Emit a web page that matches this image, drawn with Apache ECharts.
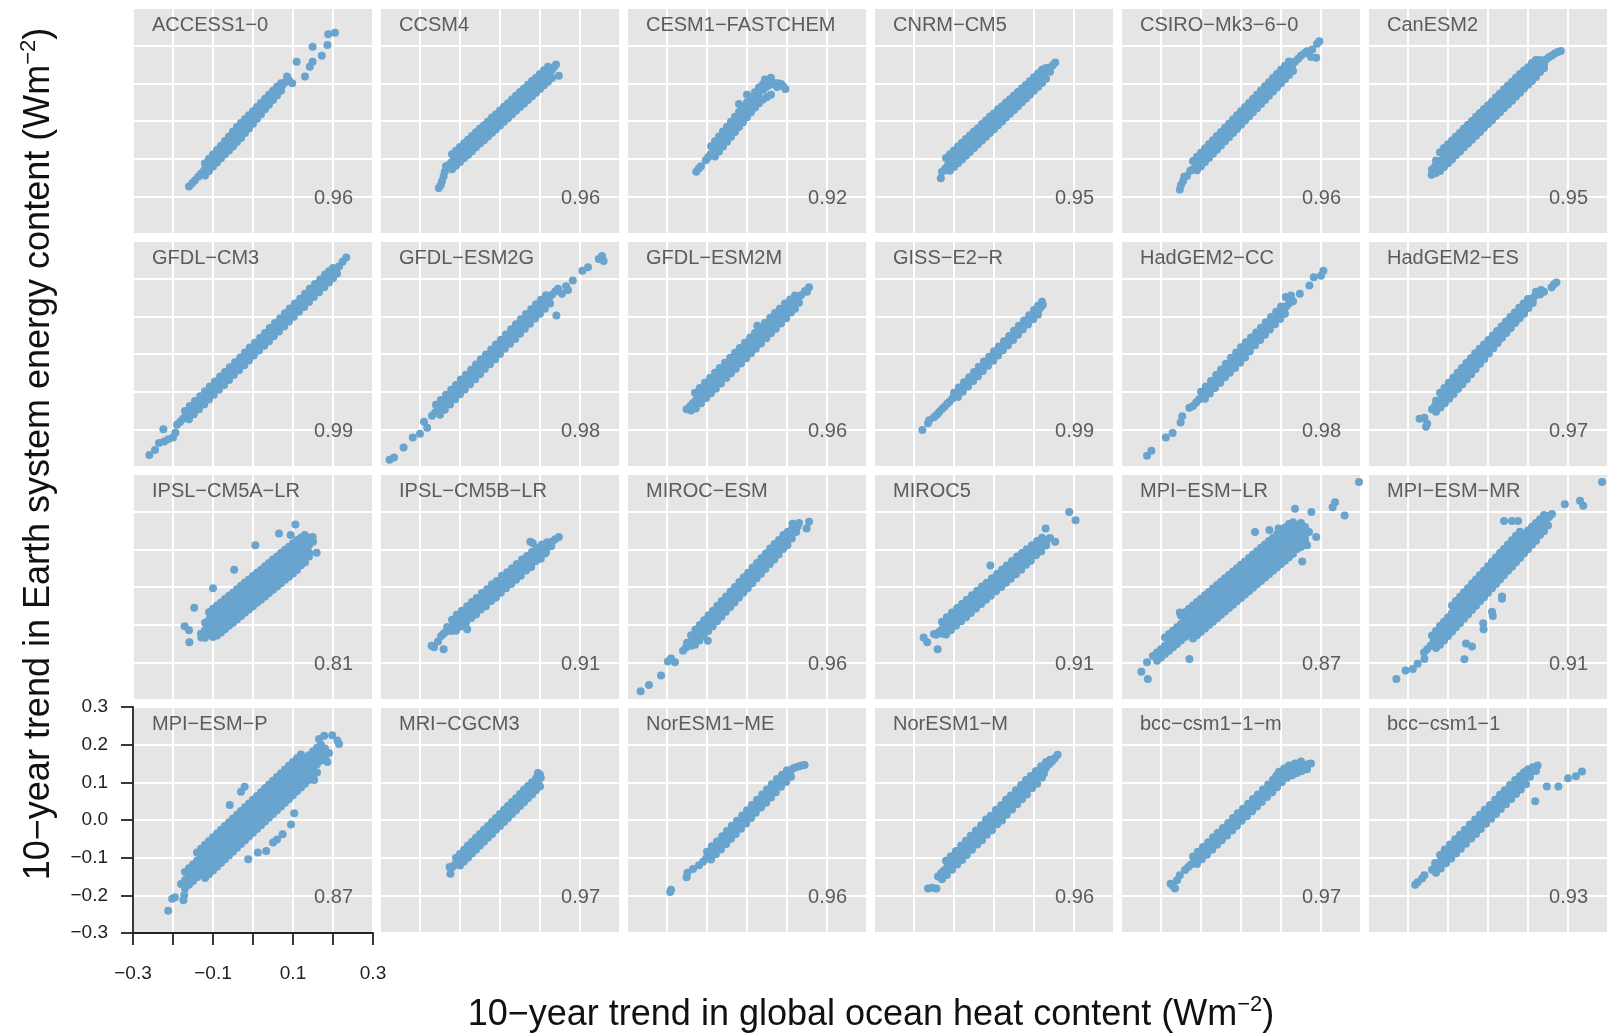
<!DOCTYPE html>
<html>
<head>
<meta charset="utf-8">
<script src="https://cdn.jsdelivr.net/npm/echarts@6/dist/echarts.min.js"></script>
<style>html,body{margin:0;padding:0;background:#fff;}#chart{width:1610px;height:1034px;}</style>
</head>
<body>
<div id="chart"></div>
<script>
// ---- Data (flat x,y pairs) ----
const MODELS = ['ACCESS1−0','CCSM4','CESM1−FASTCHEM','CNRM−CM5','CSIRO−Mk3−6−0','CanESM2',
  'GFDL−CM3','GFDL−ESM2G','GFDL−ESM2M','GISS−E2−R','HadGEM2−CC','HadGEM2−ES',
  'IPSL−CM5A−LR','IPSL−CM5B−LR','MIROC−ESM','MIROC5','MPI−ESM−LR','MPI−ESM−MR',
  'MPI−ESM−P','MRI−CGCM3','NorESM1−ME','NorESM1−M','bcc−csm1−1−m','bcc−csm1−1'];
const R_VALUES = ['0.96','0.96','0.92','0.95','0.96','0.95','0.99','0.98','0.96','0.99','0.98','0.97',
  '0.81','0.91','0.96','0.91','0.87','0.91','0.87','0.97','0.96','0.96','0.97','0.93'];
const X_TICK_VALUES = [-0.3, -0.1, 0.1, 0.3];
const X_TICK_LABELS = ['−0.3', '−0.1', '0.1', '0.3'];
const Y_TICK_VALUES = [-0.3, -0.2, -0.1, 0, 0.1, 0.2, 0.3];
const Y_TICK_LABELS = ['−0.3', '−0.2', '−0.1', '0.0', '0.1', '0.2', '0.3'];

const ACCESS1_0 = [-.16,-.174,-.145,-.157,-.13,-.14,-.115,-.122,-.1,-.105,-.085,-.088,-.07,-.07,-.055,-.053,-.04,-.036,-.025,-.019,-.01,-.002,.005,.016,.02,.033,.035,.05,.05,.068,.065,.085,.08,.102,
-.152,-.165,-.137,-.148,-.122,-.13,-.107,-.113,-.092,-.096,-.077,-.079,-.062,-.061,-.047,-.044,-.032,-.027,-.017,-.01,-.002,.008,.013,.025,.028,.042,.043,.059,.058,.077,.073,.094,
-.12,-.112,-.1,-.089,-.08,-.066,-.06,-.041,-.04,-.016,-.02,.005,0,.026,.02,.048,.04,.07,.06,.091,
-.11,-.1,-.09,-.077,-.07,-.053,-.05,-.028,-.03,-.005,-.01,.015,.01,.037,.03,.059,.05,.08,.07,.1,
-.11,-.133,-.09,-.11,-.07,-.088,-.05,-.068,-.03,-.045,-.01,-.02,.01,.006,.03,.031,.05,.056,.07,.08,
-.12,-.145,-.1,-.121,-.08,-.099,-.06,-.078,-.04,-.056,-.02,-.032,0,-.007,.02,.018,.04,.043,.06,.068,
.085,.118,.09,.108,.098,.1,.109,.157,.13,.118,.142,.144,.149,.157,.149,.197,.172,.173,.186,.202,.188,.23,.205,.234];
const CCSM4 = [-.153,-.178,-.145,-.16,-.141,-.147,-.135,-.12,-.12,-.128,-.148,-.17,-.138,-.135,
-.13,-.118,-.115,-.104,-.1,-.089,-.085,-.074,-.07,-.06,-.055,-.045,-.04,-.031,-.025,-.016,-.01,-.002,.005,.013,.02,.027,.035,.042,.05,.057,.065,.071,.08,.086,.095,.1,.11,.115,.125,.129,.135,.143,
-.122,-.11,-.107,-.096,-.092,-.081,-.077,-.067,-.062,-.052,-.047,-.038,-.032,-.023,-.017,-.008,-.002,.006,.013,.021,.028,.035,.043,.05,.058,.064,.073,.079,.088,.093,.103,.108,.118,.122,.13,.136,
-.12,-.088,-.1,-.069,-.08,-.05,-.06,-.03,-.04,-.011,-.02,.009,0,.028,.02,.047,.04,.067,.06,.086,.08,.106,.1,.125,.12,.144,
-.11,-.079,-.09,-.059,-.07,-.04,-.05,-.02,-.03,-.001,-.01,.018,.01,.038,.03,.057,.05,.077,.07,.096,.09,.115,.11,.135,
-.11,-.119,-.09,-.099,-.07,-.08,-.05,-.06,-.03,-.041,-.01,-.022,.01,-.002,.03,.017,.05,.037,.07,.056,.09,.075,.11,.095,.13,.114,
-.1,-.109,-.08,-.09,-.06,-.07,-.04,-.051,-.02,-.031,0,-.012,.02,.007,.04,.027,.06,.046,.08,.066,.1,.085,.12,.104,
-.11,-.089,-.09,-.069,-.07,-.05,-.05,-.03,-.03,-.011,-.01,.008,.01,.028,.03,.047,.05,.067,.07,.086,.09,.105,.11,.125,
-.12,-.118,-.1,-.099,-.08,-.08,-.06,-.06,-.04,-.041,-.02,-.021,0,-.002,.02,.017,.04,.037,.06,.056,.08,.076,.1,.095,.12,.114,
.147,.12,.14,.15];
const CESM1_FASTCHEM = [-.127,-.135,-.115,-.12,-.103,-.104,-.091,-.088,-.079,-.073,-.067,-.057,-.055,-.042,-.043,-.026,-.031,-.01,-.019,.005,-.007,.021,.005,.037,.017,.052,.029,.068,.041,.083,.055,.095,.07,.1,.085,.098,.096,.085,
-.121,-.127,-.097,-.096,-.073,-.065,-.049,-.034,-.025,-.003,-.001,.029,.023,.06,.048,.09,.062,.098,.078,.1,.09,.092,
-.09,-.067,-.07,-.041,-.05,-.015,-.03,.011,-.01,.037,.01,.063,.03,.089,
-.08,-.054,-.06,-.028,-.04,-.002,-.02,.024,0,.05,.02,.076,.04,.098,
-.08,-.094,-.06,-.068,-.04,-.042,-.02,-.016,0,.01,.02,.036,.04,.057,.06,.07,
-.07,-.081,-.05,-.055,-.03,-.029,-.01,-.003,.01,.023,.03,.047,.05,.064,
.06,.115,.045,.11,.075,.09,-.02,.045,0,.07];
const CNRM_CM5 = [-.133,-.152,-.13,-.135,-.115,-.117,-.1,-.102,-.085,-.087,-.07,-.072,-.055,-.057,-.04,-.042,-.025,-.026,-.01,-.011,.005,.004,.02,.02,.035,.035,.05,.05,.065,.065,.08,.08,.095,.095,.11,.11,.125,.126,.14,.142,.153,.155,
-.122,-.126,-.107,-.11,-.092,-.095,-.077,-.08,-.062,-.065,-.047,-.05,-.032,-.034,-.017,-.019,-.002,-.003,.013,.012,.028,.028,.043,.043,.058,.058,.073,.073,.088,.088,.103,.103,.118,.118,.133,.134,.147,.148,
-.12,-.098,-.1,-.078,-.08,-.058,-.06,-.038,-.04,-.019,-.02,.001,0,.02,.02,.039,.04,.058,.06,.077,.08,.096,.1,.116,.12,.136,
-.11,-.088,-.09,-.068,-.07,-.048,-.05,-.028,-.03,-.008,-.01,.012,.01,.031,.03,.049,.05,.068,.07,.087,.09,.106,.11,.126,
-.11,-.132,-.09,-.112,-.07,-.092,-.05,-.072,-.03,-.052,-.01,-.032,.01,-.011,.03,.009,.05,.029,.07,.05,.09,.07,.11,.09,.13,.112,
-.1,-.122,-.08,-.102,-.06,-.082,-.04,-.062,-.02,-.042,0,-.022,.02,-.001,.04,.019,.06,.039,.08,.06,.1,.08,.12,.101,
-.11,-.099,-.09,-.079,-.07,-.059,-.05,-.039,-.03,-.019,-.01,.001,.01,.021,.03,.041,.05,.061,.07,.081,.09,.101,.11,.121,.13,.141,
-.12,-.131,-.1,-.111,-.08,-.091,-.06,-.071,-.04,-.051,-.02,-.031,0,-.011,.02,.009,.04,.029,.06,.049,.08,.069,.1,.089,.12,.109,.14,.131];
const CSIRO_MK3_6_0 = [-.153,-.182,-.145,-.16,-.15,-.17,-.135,-.146,-.12,-.128,-.105,-.11,-.09,-.091,-.075,-.075,-.06,-.058,-.045,-.042,-.03,-.025,-.015,-.009,0,.008,.015,.025,.03,.041,.045,.058,.06,.074,.075,.091,.09,.107,.105,.124,.12,.14,.135,.157,.15,.173,.165,.185,
-.142,-.148,-.127,-.132,-.112,-.115,-.097,-.099,-.082,-.082,-.067,-.066,-.052,-.049,-.037,-.033,-.022,-.016,-.007,0,.008,.017,.023,.033,.038,.05,.053,.066,.068,.083,.083,.099,.098,.116,.113,.132,.128,.149,.143,.165,.158,.179,
-.12,-.106,-.1,-.084,-.08,-.062,-.06,-.04,-.04,-.018,-.02,.004,0,.026,.02,.048,.04,.07,.06,.092,.08,.114,.1,.136,.12,.158,
-.11,-.095,-.09,-.073,-.07,-.051,-.05,-.029,-.03,-.007,-.01,.015,.01,.037,.03,.059,.05,.081,.07,.103,.09,.125,.11,.147,
-.11,-.131,-.09,-.109,-.07,-.087,-.05,-.065,-.03,-.043,-.01,-.021,.01,.001,.03,.023,.05,.045,.07,.067,.09,.089,.11,.111,.13,.133,
-.1,-.12,-.08,-.098,-.06,-.076,-.04,-.054,-.02,-.032,0,-.01,.02,.012,.04,.034,.06,.056,.08,.078,.1,.1,.12,.122,
.178,.19,.19,.205,.196,.212,.188,.168,.175,.17];
const CANESM2 = [-.141,-.143,-.14,-.129,-.125,-.113,-.11,-.097,-.095,-.082,-.08,-.066,-.065,-.051,-.05,-.035,-.035,-.019,-.02,-.004,-.005,.012,.01,.027,.025,.043,.04,.059,.055,.074,.07,.09,.085,.105,.1,.121,.115,.137,.13,.152,.145,.163,.16,.174,.175,.183,.182,.186,
-.132,-.12,-.117,-.105,-.102,-.089,-.087,-.073,-.072,-.058,-.057,-.042,-.042,-.027,-.027,-.011,-.012,.005,.003,.02,.018,.036,.033,.051,.048,.067,.063,.083,.078,.098,.093,.114,.108,.129,.123,.145,.138,.158,.152,.169,.167,.179,
-.12,-.083,-.1,-.062,-.08,-.041,-.06,-.02,-.04,0,-.02,.021,0,.042,.02,.063,.04,.084,.06,.104,.08,.125,.1,.143,.12,.162,
-.11,-.072,-.09,-.052,-.07,-.031,-.05,-.01,-.03,.011,-.01,.032,.01,.052,.03,.073,.05,.094,.07,.115,.09,.134,.11,.154,
-.13,-.138,-.11,-.122,-.09,-.102,-.07,-.081,-.05,-.06,-.03,-.039,-.01,-.018,.01,.002,.03,.023,.05,.044,.07,.065,.09,.086,.11,.106,.13,.13,.14,.14,
-.12,-.133,-.1,-.112,-.08,-.091,-.06,-.07,-.04,-.05,-.02,-.029,0,-.008,.02,.013,.04,.034,.06,.054,.08,.075,.1,.096,.12,.117,
-.13,-.105,-.11,-.084,-.09,-.064,-.07,-.043,-.05,-.022,-.03,-.001,-.01,.02,.01,.04,.03,.061,.05,.082,.07,.103,.09,.124,.11,.144,.13,.162,
-.12,-.121,-.1,-.1,-.08,-.079,-.06,-.058,-.04,-.038,-.02,-.017,0,.004,.02,.025,.04,.046,.06,.066,.08,.087,.1,.108,.12,.129,.14,.15];
const GFDL_CM3 = [-.259,-.268,-.245,-.255,-.235,-.236,-.222,-.232,-.212,-.226,-.2,-.222,-.224,-.2,-.194,-.209,
-.19,-.188,-.175,-.172,-.16,-.157,-.145,-.141,-.13,-.126,-.115,-.11,-.1,-.095,-.085,-.079,-.07,-.064,-.055,-.048,-.04,-.032,-.025,-.017,-.01,-.001,.005,.014,.02,.03,.035,.045,.05,.061,.065,.076,.08,.092,.095,.107,.11,.123,.125,.139,.14,.154,.155,.17,.17,.185,.185,.201,.2,.216,.215,.232,.233,.256,
-.182,-.18,-.167,-.164,-.152,-.148,-.137,-.133,-.122,-.117,-.107,-.102,-.092,-.086,-.077,-.071,-.062,-.055,-.047,-.04,-.032,-.024,-.017,-.009,-.002,.007,.013,.022,.028,.038,.043,.054,.058,.069,.073,.085,.088,.1,.103,.116,.118,.131,.133,.147,.148,.162,.163,.178,.178,.193,.193,.209,.208,.224,.224,.245,
-.17,-.151,-.145,-.125,-.12,-.099,-.095,-.073,-.07,-.048,-.045,-.022,-.02,.004,.005,.03,.03,.056,.055,.082,.08,.108,.105,.134,.13,.16,.155,.186,.18,.211,.2,.228,
-.158,-.138,-.132,-.112,-.108,-.086,-.082,-.06,-.058,-.035,-.032,-.009,-.008,.017,.018,.043,.042,.069,.068,.095,.092,.121,.118,.147,.142,.173,.168,.198,.19,.22,
-.16,-.173,-.135,-.147,-.11,-.121,-.085,-.095,-.06,-.069,-.035,-.043,-.01,-.017,.015,.009,.04,.034,.065,.06,.09,.086,.115,.112,.14,.138,.165,.164,.19,.19,.21,.213,
-.148,-.16,-.122,-.134,-.098,-.108,-.072,-.082,-.048,-.056,-.022,-.03,.002,-.004,.028,.022,.052,.047,.078,.073,.102,.099,.128,.125,.152,.151,.178,.177,.2,.201];
const GFDL_ESM2G = [-.276,-.281,-.265,-.275,-.241,-.248,-.218,-.222,-.2,-.212,-.182,-.196,-.19,-.18,
-.17,-.164,-.155,-.148,-.14,-.132,-.125,-.116,-.11,-.1,-.095,-.084,-.08,-.068,-.065,-.052,-.05,-.036,-.035,-.019,-.02,-.003,-.005,.013,.01,.029,.025,.045,.04,.061,.055,.077,.07,.093,.085,.109,.1,.125,.115,.141,.13,.157,.145,.173,
-.162,-.155,-.147,-.139,-.132,-.123,-.117,-.107,-.102,-.091,-.087,-.075,-.072,-.059,-.057,-.043,-.042,-.027,-.027,-.011,-.012,.005,.003,.021,.018,.037,.033,.053,.048,.069,.063,.085,.078,.101,.093,.118,.108,.134,.123,.15,.138,.166,
-.16,-.135,-.135,-.108,-.11,-.082,-.085,-.055,-.06,-.028,-.035,-.001,-.01,.025,.015,.052,.04,.079,.065,.106,.09,.132,.115,.156,
-.148,-.122,-.122,-.095,-.098,-.068,-.072,-.042,-.048,-.014,-.022,.012,.002,.038,.028,.066,.052,.092,.078,.119,.102,.144,
-.15,-.161,-.125,-.134,-.1,-.107,-.075,-.08,-.05,-.054,-.025,-.027,0,0,.025,.027,.05,.054,.075,.08,.1,.107,.125,.134,
-.138,-.148,-.112,-.12,-.088,-.094,-.062,-.067,-.038,-.04,-.012,-.014,.012,.014,.038,.04,.062,.067,.088,.094,.112,.12,
.141,.102,.155,.16,.165,.18,.182,.195,.17,.17,.206,.221,.22,.23,.247,.252,.259,.247,.255,.26];
const GFDL_ESM2M = [-.151,-.147,-.135,-.13,-.12,-.114,-.105,-.098,-.09,-.082,-.075,-.067,-.06,-.051,-.045,-.035,-.03,-.019,-.015,-.003,0,.013,.015,.029,.03,.045,.045,.061,.06,.077,.075,.093,.09,.108,.105,.124,.12,.14,.135,.156,.155,.177,.15,.165,
-.142,-.138,-.127,-.122,-.112,-.106,-.097,-.09,-.082,-.074,-.067,-.058,-.052,-.042,-.037,-.026,-.022,-.01,-.007,.006,.008,.021,.023,.037,.038,.053,.053,.069,.068,.085,.083,.101,.098,.117,.113,.133,.128,.149,.145,.167,
-.13,-.103,-.105,-.076,-.08,-.05,-.055,-.023,-.03,.003,-.005,.03,.02,.056,.045,.083,.07,.109,.095,.134,.12,.155,
-.118,-.09,-.092,-.063,-.068,-.037,-.042,-.01,-.018,.016,.008,.044,.032,.069,.058,.096,.082,.12,.108,.145,
-.14,-.15,-.115,-.131,-.09,-.104,-.065,-.078,-.04,-.051,-.015,-.025,.01,.002,.035,.028,.06,.055,.085,.081,.11,.11,.13,.136,
-.128,-.145,-.102,-.117,-.078,-.092,-.052,-.064,-.028,-.039,-.002,-.011,.022,.014,.048,.042,.072,.067,.098,.095,.12,.12,
-.12,-.103,-.1,-.082,-.08,-.061,-.06,-.04,-.04,-.018,-.02,.003,0,.024,.02,.045,.04,.066,.06,.087,.08,.108,
-.13,-.136,-.11,-.115,-.09,-.093,-.07,-.072,-.05,-.051,-.03,-.03,-.01,-.009,.01,.013,.03,.034,.05,.055,.07,.076,.09,.097,
.026,.075];
const GISS_E2_R = [-.179,-.202,-.165,-.184,-.162,-.176,
-.15,-.168,-.137,-.154,-.124,-.14,-.111,-.126,-.098,-.111,-.085,-.097,-.072,-.083,-.059,-.069,-.046,-.054,-.033,-.04,-.02,-.026,-.007,-.012,.006,.003,.019,.017,.032,.031,.045,.045,.058,.06,.071,.074,.084,.088,.097,.102,.11,.116,.122,.13,
-.143,-.161,-.13,-.146,-.117,-.132,-.104,-.118,-.091,-.104,-.078,-.089,-.065,-.075,-.052,-.061,-.039,-.047,-.026,-.032,-.013,-.018,0,-.004,.013,.01,.026,.024,.039,.039,.052,.053,.065,.067,.078,.081,.091,.096,.104,.11,.116,.123,
-.1,-.103,-.075,-.075,-.05,-.048,-.025,-.02,0,.007,.025,.034,.05,.062,.075,.089,.1,.117,.12,.139,
-.088,-.089,-.062,-.062,-.038,-.034,-.012,-.007,.012,.02,.038,.048,.062,.075,.088,.103,.11,.128,
-.09,-.114,-.065,-.086,-.04,-.059,-.015,-.031,.01,-.004,.035,.023,.06,.051,.085,.078,.11,.105,
-.078,-.1,-.052,-.072,-.028,-.045,-.002,-.018,.022,.01,.048,.037,.072,.065,.098,.092];
const HADGEM2_CC = [-.235,-.27,-.224,-.257,-.188,-.222,-.171,-.21,-.151,-.182,-.147,-.165,-.129,-.143,
-.12,-.138,-.105,-.121,-.09,-.104,-.075,-.087,-.06,-.07,-.045,-.053,-.03,-.036,-.015,-.019,0,-.002,.015,.015,.03,.032,.045,.049,.06,.066,.075,.083,.09,.1,.105,.117,.12,.134,
-.112,-.129,-.097,-.112,-.082,-.095,-.067,-.078,-.052,-.061,-.037,-.044,-.022,-.027,-.007,-.01,.008,.007,.023,.024,.038,.041,.053,.058,.068,.075,.083,.092,.098,.109,.113,.126,
-.1,-.1,-.075,-.072,-.05,-.041,-.025,-.01,0,.018,.025,.044,.05,.07,.075,.098,.1,.126,
-.088,-.086,-.062,-.056,-.038,-.026,-.012,.004,.012,.031,.038,.057,.062,.084,.088,.112,
-.09,-.119,-.065,-.09,-.04,-.062,-.015,-.037,.01,-.009,.035,.023,.06,.051,.085,.079,.11,.107,
-.078,-.105,-.052,-.076,-.028,-.05,-.002,-.023,.022,.007,.048,.037,.072,.065,.098,.093,
.112,.151,.13,.14,.125,.155,.147,.16,.171,.182,.182,.204,.2,.208,.206,.221];
const HADGEM2_ES = [-.171,-.172,-.159,-.169,-.155,-.193,-.152,-.185,
-.14,-.147,-.127,-.132,-.114,-.116,-.101,-.101,-.088,-.086,-.075,-.071,-.062,-.056,-.049,-.04,-.036,-.025,-.023,-.01,-.01,.005,.003,.021,.016,.036,.029,.051,.042,.066,.055,.081,.068,.097,.081,.112,.094,.127,.107,.142,.12,.157,.133,.17,
-.133,-.139,-.12,-.123,-.107,-.108,-.094,-.093,-.081,-.078,-.068,-.063,-.055,-.047,-.042,-.032,-.029,-.017,-.016,-.002,-.003,.013,.01,.029,.023,.044,.036,.059,.049,.074,.062,.09,.075,.105,.088,.12,.101,.135,.114,.15,.127,.166,
-.12,-.103,-.098,-.076,-.076,-.05,-.054,-.024,-.032,.002,-.01,.025,.012,.049,.034,.073,.056,.098,.078,.123,.1,.146,
-.109,-.09,-.087,-.063,-.065,-.037,-.043,-.011,-.021,.014,.001,.037,.023,.061,.045,.086,.067,.11,.089,.134,
-.13,-.153,-.108,-.131,-.086,-.106,-.064,-.08,-.042,-.054,-.02,-.026,.002,.001,.024,.029,.046,.056,.068,.082,.09,.107,.112,.136,
-.119,-.142,-.097,-.119,-.075,-.093,-.053,-.067,-.031,-.04,-.009,-.013,.013,.015,.035,.043,.057,.069,.079,.095,.101,.122,
-.13,-.124,-.11,-.101,-.09,-.077,-.07,-.054,-.05,-.031,-.03,-.007,0,.028,.02,.051,.04,.075,.06,.098,.08,.122,.1,.145,.12,.165,
-.12,-.134,-.1,-.111,-.08,-.088,-.06,-.064,-.04,-.041,-.02,-.017,.01,.018,.03,.041,.05,.065,.07,.088,.09,.111,.11,.135,.13,.158,
.159,.177,.171,.19,.165,.185,.14,.165];
const IPSL_CM5A_LR = [-.13,-.124,-.11,-.107,-.09,-.089,-.07,-.072,-.05,-.055,-.03,-.037,-.01,-.02,.01,-.002,.03,.015,.05,.033,.07,.05,.09,.067,.11,.085,.13,.102,.15,.12,
-.12,-.115,-.1,-.098,-.08,-.081,-.06,-.063,-.04,-.046,-.02,-.028,0,-.011,.02,.006,.04,.024,.06,.041,.08,.059,.1,.076,.12,.093,.14,.111,
-.12,-.095,-.1,-.078,-.08,-.061,-.06,-.043,-.04,-.026,-.02,-.008,0,.009,.02,.026,.04,.044,.06,.061,.08,.079,.1,.096,.12,.113,.14,.131,
-.11,-.087,-.09,-.069,-.07,-.052,-.05,-.035,-.03,-.017,-.01,0,.01,.018,.03,.035,.05,.053,.07,.07,.09,.087,.11,.105,.13,.122,
-.12,-.135,-.1,-.118,-.08,-.101,-.06,-.083,-.04,-.066,-.02,-.048,0,-.031,.02,-.014,.04,.004,.06,.021,.08,.039,.1,.056,.12,.073,.14,.091,
-.11,-.127,-.09,-.109,-.07,-.092,-.05,-.075,-.03,-.057,-.01,-.04,.01,-.022,.03,-.005,.05,.013,.07,.03,.09,.047,.11,.065,.13,.082,
-.11,-.067,-.09,-.049,-.07,-.032,-.05,-.015,-.03,.003,-.01,.02,.01,.038,.03,.055,.05,.073,.07,.09,.09,.107,.11,.125,.13,.137,
-.1,-.058,-.08,-.041,-.06,-.023,-.04,-.006,-.02,.012,0,.029,.02,.046,.04,.064,.06,.081,.08,.099,.1,.116,.12,.131,
-.1,-.133,-.08,-.121,-.06,-.103,-.04,-.086,-.02,-.068,0,-.051,.02,-.034,.04,-.016,.06,.001,.08,.019,.1,.036,.12,.058,.14,.081,
-.09,-.129,-.07,-.112,-.05,-.095,-.03,-.077,-.01,-.06,.01,-.042,.03,-.025,.05,-.007,.07,.01,.09,.027,.11,.045,.13,.066,
-.171,-.104,-.16,-.115,-.159,-.147,-.147,-.055,-.129,-.134,-.1,-.003,-.047,.046,.006,.111,.065,.142,.094,.138,.106,.166,.129,.138,.149,.133,.159,.091];
const IPSL_CM5B_LR = [-.171,-.156,-.165,-.16,-.155,-.145,-.141,-.165,-.147,-.13,
-.14,-.123,-.125,-.11,-.11,-.096,-.095,-.083,-.08,-.069,-.065,-.056,-.05,-.042,-.035,-.029,-.02,-.015,-.005,-.002,.01,.012,.025,.026,.04,.039,.055,.053,.07,.066,.085,.08,.1,.093,.115,.107,.13,.12,.147,.133,
-.132,-.116,-.117,-.102,-.102,-.089,-.087,-.075,-.072,-.062,-.057,-.048,-.042,-.035,-.027,-.021,-.012,-.008,.003,.006,.018,.019,.033,.033,.048,.046,.063,.06,.078,.073,.093,.087,.108,.1,.123,.114,.138,.127,
-.12,-.087,-.095,-.063,-.07,-.04,-.045,-.016,-.02,.007,.005,.03,.03,.05,.055,.073,.08,.093,.105,.113,
-.108,-.074,-.082,-.051,-.058,-.029,-.032,-.006,-.008,.016,.018,.039,.042,.061,.068,.082,.092,.104,
-.132,-.106,-.108,-.084,-.083,-.062,-.058,-.039,-.033,-.017,-.008,.006,.018,.029,.043,.052,.068,.074,.093,.097,.118,.119,
-.11,-.116,-.085,-.094,-.06,-.073,-.035,-.051,-.01,-.028,.015,-.003,.04,.019,.065,.044,.09,.069,.115,.092,
-.098,-.105,-.072,-.082,-.048,-.06,-.022,-.037,.002,-.015,.028,.008,.052,.03,.078,.053,.102,.075,
-.122,-.117,-.098,-.095,-.072,-.072,-.048,-.05,-.022,-.027,.002,-.005,.028,.018,.052,.04,.078,.063,.102,.085,.128,.108,
-.082,-.112,.076,.12,.082,.116,.112,.089];
const MIROC_ESM = [-.266,-.277,-.245,-.26,-.215,-.235,-.198,-.198,-.18,-.2,-.19,-.19,
-.16,-.169,-.147,-.154,-.134,-.139,-.121,-.124,-.108,-.109,-.095,-.094,-.082,-.079,-.069,-.064,-.056,-.049,-.043,-.034,-.03,-.02,-.017,-.005,-.004,.01,.009,.025,.022,.04,.035,.055,.048,.07,.061,.085,.074,.1,.087,.115,.1,.13,.113,.145,.126,.16,
-.153,-.161,-.14,-.146,-.127,-.131,-.114,-.116,-.101,-.101,-.088,-.086,-.075,-.071,-.062,-.056,-.049,-.041,-.036,-.026,-.023,-.011,-.01,.004,.003,.018,.016,.033,.029,.048,.042,.063,.055,.078,.068,.093,.081,.108,.094,.123,.107,.138,.12,.153,
-.14,-.128,-.118,-.101,-.096,-.075,-.074,-.05,-.052,-.025,-.03,0,-.008,.026,.014,.051,.036,.076,.058,.102,.08,.125,.102,.147,
-.129,-.113,-.107,-.088,-.085,-.063,-.063,-.037,-.041,-.012,-.019,.013,.003,.038,.025,.064,.047,.089,.069,.114,.091,.138,
-.15,-.148,-.129,-.123,-.107,-.098,-.085,-.073,-.063,-.047,-.041,-.022,-.019,.003,.003,.028,.025,.054,.047,.079,.069,.104,.091,.13,.113,.155,
-.13,-.153,-.108,-.129,-.086,-.104,-.064,-.079,-.042,-.053,-.02,-.028,.002,-.003,.024,.023,.046,.048,.068,.073,.09,.101,.112,.129,
-.119,-.142,-.097,-.117,-.075,-.091,-.053,-.066,-.031,-.041,-.009,-.015,.013,.01,.035,.035,.057,.061,.079,.086,.101,.111,
-.14,-.156,-.119,-.132,-.097,-.107,-.075,-.081,-.053,-.056,-.031,-.031,-.009,-.005,.013,.02,.035,.045,.057,.071,.079,.096,.101,.121,.123,.146,
-.098,-.143,.114,.168,.155,.173,.149,.155,.13,.17];
const MIROC5 = [-.176,-.134,-.167,-.147,-.141,-.165,-.15,-.125,
-.145,-.127,-.13,-.113,-.115,-.099,-.1,-.086,-.085,-.072,-.07,-.058,-.055,-.044,-.04,-.031,-.025,-.017,-.01,-.003,.005,.011,.02,.024,.035,.038,.05,.052,.065,.065,.08,.079,.095,.093,.11,.107,.125,.12,.14,.13,
-.137,-.119,-.122,-.106,-.107,-.092,-.092,-.078,-.077,-.064,-.062,-.051,-.047,-.037,-.032,-.023,-.017,-.01,-.002,.004,.013,.018,.028,.032,.043,.045,.058,.059,.073,.073,.088,.087,.103,.1,.118,.114,.132,.125,
-.13,-.093,-.105,-.068,-.08,-.045,-.055,-.022,-.03,.001,-.005,.023,.02,.046,.045,.069,.07,.09,.095,.111,.12,.131,
-.118,-.08,-.092,-.056,-.068,-.034,-.042,-.01,-.018,.011,.008,.035,.032,.057,.058,.081,.082,.1,.108,.122,
-.12,-.126,-.095,-.103,-.07,-.08,-.045,-.057,-.02,-.034,.005,-.011,.03,.011,.055,.034,.08,.059,.105,.084,.13,.11,
-.108,-.115,-.082,-.091,-.058,-.069,-.032,-.045,-.008,-.023,.018,0,.042,.022,.068,.046,.092,.07,.118,.094,
-.12,-.093,-.1,-.075,-.08,-.056,-.06,-.038,-.04,-.02,-.02,-.001,0,.017,.02,.035,.04,.054,.06,.072,.08,.09,.1,.109,.12,.127,
-.13,-.124,-.11,-.106,-.09,-.087,-.07,-.069,-.05,-.051,-.03,-.032,-.01,-.014,.01,.004,.03,.022,.05,.041,.07,.059,.09,.077,.11,.096,.13,.114,
.188,.199,.204,.177,-.009,.057,.153,.12,.129,.155];
const MPI_ESM_LR = [-.22,-.183,-.2,-.165,-.18,-.147,-.16,-.129,-.14,-.111,-.12,-.093,-.1,-.075,-.08,-.057,-.06,-.039,-.04,-.021,-.02,-.003,0,.015,.02,.033,.04,.051,.06,.069,.08,.087,.1,.105,.12,.123,.14,.141,.16,.159,
-.21,-.174,-.19,-.156,-.17,-.138,-.15,-.12,-.13,-.102,-.11,-.084,-.09,-.066,-.07,-.048,-.05,-.03,-.03,-.012,-.01,.006,.01,.024,.03,.042,.05,.06,.07,.078,.09,.096,.11,.114,.13,.132,.15,.15,
-.19,-.134,-.17,-.116,-.15,-.098,-.13,-.08,-.11,-.062,-.09,-.044,-.07,-.026,-.05,-.008,-.03,.01,-.01,.028,.01,.046,.03,.064,.05,.082,.07,.1,.09,.118,.11,.136,.13,.154,.15,.17,
-.18,-.125,-.16,-.107,-.14,-.089,-.12,-.071,-.1,-.053,-.08,-.035,-.06,-.017,-.04,.001,-.02,.019,0,.037,.02,.055,.04,.073,.06,.091,.08,.109,.1,.127,.12,.145,.14,.163,
-.21,-.196,-.19,-.178,-.17,-.16,-.15,-.142,-.13,-.124,-.11,-.106,-.09,-.088,-.07,-.07,-.05,-.052,-.03,-.034,-.01,-.016,.01,.002,.03,.02,.05,.038,.07,.056,.09,.074,.11,.092,.13,.11,.15,.128,.17,.146,
-.2,-.187,-.18,-.169,-.16,-.151,-.14,-.133,-.12,-.115,-.1,-.097,-.08,-.079,-.06,-.061,-.04,-.043,-.02,-.025,0,-.007,.02,.011,.04,.029,.06,.047,.08,.065,.1,.083,.12,.101,.14,.119,.16,.137,
-.15,-.076,-.13,-.058,-.11,-.04,-.09,-.022,-.07,-.004,-.05,.014,-.03,.032,-.01,.05,.01,.068,.03,.086,.05,.104,.07,.122,.09,.14,.11,.158,.13,.172,
-.14,-.067,-.12,-.049,-.1,-.031,-.08,-.013,-.06,.005,-.04,.023,-.02,.041,0,.059,.02,.077,.04,.095,.06,.113,.08,.131,.1,.149,.12,.167,
-.12,-.137,-.1,-.119,-.08,-.101,-.06,-.083,-.04,-.065,-.02,-.047,0,-.029,.02,-.011,.04,.007,.06,.025,.08,.043,.1,.061,.12,.079,.14,.101,.16,.124,
-.11,-.128,-.09,-.11,-.07,-.092,-.05,-.074,-.03,-.056,-.01,-.038,.01,-.02,.03,-.002,.05,.016,.07,.034,.09,.052,.11,.07,.13,.088,.15,.106,
-.249,-.225,-.233,-.244,-.235,-.2,-.129,-.191,-.153,-.068,.035,.146,.071,.151,.094,.155,.135,.208,.176,.199,.188,.133,.165,.111,.153,.068,.229,.212,.235,.225,.259,.19,.295,.279];
const MPI_ESM_MR = [-.229,-.244,-.206,-.222,-.188,-.218,-.176,-.204,-.159,-.191,
-.16,-.174,-.144,-.156,-.128,-.137,-.112,-.119,-.096,-.1,-.08,-.082,-.064,-.064,-.048,-.045,-.032,-.027,-.016,-.008,0,.01,.016,.028,.032,.047,.048,.065,.064,.084,.08,.102,.096,.12,.112,.139,.128,.157,.144,.176,.16,.194,
-.152,-.165,-.136,-.146,-.12,-.128,-.104,-.11,-.088,-.091,-.072,-.073,-.056,-.054,-.04,-.036,-.024,-.018,-.008,.001,.008,.019,.024,.038,.04,.056,.056,.074,.072,.093,.088,.111,.104,.13,.12,.148,.136,.166,.152,.185,
-.14,-.129,-.12,-.103,-.1,-.08,-.08,-.057,-.06,-.034,-.04,-.011,-.02,.012,0,.035,.02,.058,.04,.081,.06,.104,.08,.127,.1,.15,.12,.17,.14,.191,
-.13,-.117,-.11,-.092,-.09,-.069,-.07,-.046,-.05,-.023,-.03,0,-.01,.023,.01,.047,.03,.07,.05,.093,.07,.116,.09,.139,.11,.16,.13,.18,
-.13,-.162,-.11,-.142,-.09,-.119,-.07,-.096,-.05,-.073,-.03,-.05,-.01,-.027,.01,-.003,.03,.02,.05,.043,.07,.066,.09,.089,.11,.112,.13,.138,.15,.163,
-.12,-.153,-.1,-.13,-.08,-.107,-.06,-.084,-.04,-.061,-.02,-.038,0,-.015,.02,.008,.04,.031,.06,.054,.08,.077,.1,.1,.12,.123,.14,.148,
-.09,-.049,-.07,-.026,-.05,-.003,-.03,.02,-.01,.043,.01,.067,.03,.09,.05,.113,.07,.136,
-.08,-.037,-.06,-.014,-.04,.009,-.02,.032,0,.055,.02,.078,.04,.101,.06,.124,.08,.147,
-.059,-.192,-.055,-.15,-.04,-.158,-.011,-.112,-.012,-.096,.01,-.066,.012,-.077,.035,-.031,.035,-.025,
.04,.175,.06,.175,.075,.175,.13,.17,.154,.189,.192,.22,.23,.229,.238,.216,.285,.279];
const MPI_ESM_P = [-.18,-.17,-.16,-.15,-.14,-.13,-.12,-.11,-.1,-.09,-.08,-.07,-.06,-.05,-.04,-.03,-.02,-.01,0,.01,.02,.03,.04,.05,.06,.07,.08,.09,.1,.11,.12,.13,.14,.15,.16,.17,.18,.19,
-.17,-.16,-.15,-.14,-.13,-.12,-.11,-.1,-.09,-.08,-.07,-.06,-.05,-.04,-.03,-.02,-.01,0,.01,.02,.03,.04,.05,.06,.07,.08,.09,.1,.11,.12,.13,.14,.15,.16,.17,.18,
-.17,-.138,-.15,-.118,-.13,-.098,-.11,-.078,-.09,-.058,-.07,-.038,-.05,-.018,-.03,.002,-.01,.022,.01,.042,.03,.062,.05,.082,.07,.102,.09,.122,.11,.142,.13,.162,.15,.182,.17,.2,
-.16,-.128,-.14,-.108,-.12,-.088,-.1,-.068,-.08,-.048,-.06,-.028,-.04,-.008,-.02,.012,0,.032,.02,.052,.04,.072,.06,.092,.08,.112,.1,.132,.12,.152,.14,.172,.16,.192,
-.17,-.182,-.15,-.162,-.13,-.142,-.11,-.122,-.09,-.102,-.07,-.082,-.05,-.062,-.03,-.042,-.01,-.022,.01,-.002,.03,.018,.05,.038,.07,.058,.09,.078,.11,.098,.13,.118,.15,.138,.17,.158,.19,.178,
-.16,-.172,-.14,-.152,-.12,-.132,-.1,-.112,-.08,-.092,-.06,-.072,-.04,-.052,-.02,-.032,0,-.012,.02,.008,.04,.028,.06,.048,.08,.068,.1,.088,.12,.108,.14,.128,.16,.148,.18,.168,
-.14,-.086,-.12,-.066,-.1,-.046,-.08,-.026,-.06,-.006,-.04,.014,-.02,.034,0,.054,.02,.074,.04,.094,.06,.114,.08,.134,.1,.154,.12,.174,
-.13,-.076,-.11,-.056,-.09,-.036,-.07,-.016,-.05,.004,-.03,.024,-.01,.044,.01,.064,.03,.084,.05,.104,.07,.124,.09,.144,.11,.164,
-.12,-.154,-.1,-.134,-.08,-.114,-.06,-.094,-.04,-.074,-.02,-.054,0,-.034,.02,-.014,.04,.006,.06,.026,.08,.046,.1,.066,.12,.086,.14,.106,.16,.126,
-.11,-.144,-.09,-.124,-.07,-.104,-.05,-.084,-.03,-.064,-.01,-.044,.01,-.024,.03,-.004,.05,.016,.07,.036,.09,.056,.11,.076,.13,.096,.15,.116,
-.212,-.241,-.202,-.209,-.195,-.205,-.174,-.213,-.172,-.2,
-.012,-.104,.012,-.086,.033,-.082,.05,-.06,.06,-.052,.074,-.038,.095,-.012,.103,.018,
-.058,.04,-.021,.088,-.03,.075,
.153,.106,.186,.154,.165,.215,.178,.224,.198,.225,.211,.211,.215,.202];
const MRI_CGCM3 = [-.124,-.143,-.126,-.125,
-.12,-.126,-.106,-.111,-.092,-.097,-.078,-.082,-.064,-.067,-.05,-.053,-.036,-.038,-.022,-.023,-.008,-.008,.006,.006,.02,.021,.034,.036,.048,.05,.062,.065,.076,.08,.09,.095,.102,.112,
-.113,-.119,-.099,-.104,-.085,-.089,-.071,-.075,-.057,-.06,-.043,-.045,-.029,-.03,-.015,-.016,-.001,-.001,.013,.014,.027,.028,.041,.043,.055,.058,.069,.072,.083,.087,.096,.101,
-.11,-.1,-.09,-.079,-.07,-.058,-.05,-.037,-.03,-.016,-.01,.005,.01,.027,.03,.048,.05,.069,.07,.09,.09,.111,
-.1,-.09,-.08,-.068,-.06,-.047,-.04,-.026,-.02,-.005,0,.016,.02,.037,.04,.058,.06,.08,.08,.1,
-.1,-.121,-.08,-.1,-.06,-.079,-.04,-.058,-.02,-.037,0,-.016,.02,.005,.04,.026,.06,.047,.08,.068,.1,.089,
-.09,-.11,-.07,-.089,-.05,-.068,-.03,-.047,-.01,-.026,.01,-.005,.03,.016,.05,.037,.07,.058,.09,.079,
.1,.12,.095,.125];
const NORESM1_ME = [-.192,-.191,-.19,-.185,-.151,-.152,-.149,-.14,-.135,-.13,-.12,-.12,
-.11,-.111,-.095,-.095,-.08,-.078,-.065,-.062,-.05,-.045,-.035,-.029,-.02,-.012,-.005,.005,.01,.021,.025,.038,.04,.054,.055,.071,.07,.087,.085,.104,.1,.12,.115,.137,.13,.143,.144,.146,
-.102,-.102,-.087,-.086,-.072,-.069,-.057,-.053,-.042,-.036,-.027,-.02,-.012,-.003,.003,.013,.018,.03,.033,.046,.048,.063,.063,.079,.078,.096,.093,.112,.108,.129,.122,.14,.137,.145,
-.1,-.084,-.075,-.057,-.05,-.029,-.025,-.002,0,.026,.025,.054,.05,.081,.075,.109,.1,.132,
-.088,-.07,-.062,-.043,-.038,-.015,-.012,.012,.012,.04,.038,.068,.062,.095,.088,.12,
-.09,-.105,-.065,-.078,-.04,-.05,-.015,-.023,.01,.005,.035,.033,.06,.06,.085,.088,.11,.115,
-.078,-.091,-.052,-.064,-.028,-.037,-.002,-.009,.022,.019,.048,.046,.072,.074,.098,.101];
const NORESM1_M = [-.165,-.182,-.155,-.18,-.144,-.182,
-.14,-.15,-.125,-.134,-.11,-.118,-.095,-.102,-.08,-.086,-.065,-.07,-.05,-.054,-.035,-.037,-.02,-.021,-.005,-.005,.01,.011,.025,.027,.04,.043,.055,.059,.07,.075,.085,.091,.1,.107,.115,.123,.13,.139,.145,.155,.159,.173,
-.132,-.141,-.117,-.125,-.102,-.109,-.087,-.093,-.072,-.077,-.057,-.061,-.042,-.045,-.027,-.029,-.012,-.013,.003,.003,.018,.019,.033,.035,.048,.051,.063,.067,.078,.083,.093,.1,.108,.116,.123,.132,.138,.148,.152,.164,
-.12,-.108,-.095,-.082,-.07,-.055,-.045,-.028,-.02,.001,.005,.027,.03,.054,.055,.079,.08,.106,.105,.13,.13,.154,
-.108,-.096,-.082,-.068,-.058,-.042,-.032,-.014,-.008,.011,.018,.039,.042,.065,.068,.093,.092,.117,.118,.143,
-.13,-.157,-.105,-.132,-.08,-.106,-.055,-.079,-.03,-.054,-.005,-.027,.02,-.001,.045,.028,.07,.055,.095,.084,.12,.113,
-.118,-.146,-.092,-.118,-.068,-.093,-.042,-.065,-.018,-.039,.008,-.011,.032,.014,.058,.042,.082,.068,.108,.096,
-.11,-.108,-.085,-.081,-.06,-.054,-.035,-.027,-.01,-.001,.015,.026,.04,.053,.065,.08,.09,.106,.115,.133,.14,.16,
-.125,-.143,-.1,-.117,-.075,-.09,-.05,-.064,-.025,-.037,0,-.01,.025,.017,.05,.044,.075,.07,.1,.097,.125,.124];
const BCC_CSM1_1_M = [-.176,-.169,-.165,-.182,-.17,-.175,-.153,-.147,-.16,-.16,
-.14,-.133,-.125,-.118,-.11,-.102,-.095,-.087,-.08,-.072,-.065,-.056,-.05,-.041,-.035,-.026,-.02,-.01,-.005,.005,.01,.02,.025,.036,.04,.051,.055,.066,.07,.081,.085,.097,.1,.112,.115,.127,.13,.138,.145,.142,.16,.145,.175,.15,
-.132,-.125,-.117,-.109,-.102,-.094,-.087,-.079,-.072,-.063,-.057,-.048,-.042,-.033,-.027,-.018,-.012,-.002,.003,.013,.018,.028,.033,.044,.048,.059,.063,.074,.078,.09,.093,.105,.108,.12,.122,.133,.137,.14,.152,.143,.167,.148,
-.12,-.097,-.095,-.072,-.07,-.046,-.045,-.021,-.02,.005,.005,.03,.03,.056,.055,.081,.08,.107,.095,.128,.12,.145,.15,.155,
-.108,-.084,-.082,-.059,-.058,-.034,-.032,-.008,-.008,.018,.018,.043,.042,.068,.068,.094,.088,.117,.108,.137,.135,.15,
-.11,-.117,-.085,-.092,-.06,-.066,-.035,-.041,-.01,-.015,.015,.01,.04,.036,.065,.061,.09,.087,.115,.112,.14,.125,.165,.135,
-.098,-.104,-.072,-.079,-.048,-.054,-.022,-.028,.002,-.002,.028,.023,.052,.048,.078,.074,.102,.1,.128,.119,.152,.13];
const BCC_CSM1_1 = [-.182,-.172,-.176,-.165,-.165,-.155,-.159,-.147,
-.14,-.132,-.125,-.116,-.11,-.101,-.095,-.085,-.08,-.069,-.065,-.053,-.05,-.038,-.035,-.022,-.02,-.006,-.005,.01,.01,.026,.025,.041,.04,.057,.055,.073,.07,.089,.085,.104,.1,.12,.115,.136,.124,.145,
-.132,-.124,-.117,-.108,-.102,-.092,-.087,-.076,-.072,-.061,-.057,-.045,-.042,-.029,-.027,-.013,-.012,.002,.003,.018,.018,.034,.033,.05,.048,.065,.063,.081,.078,.097,.093,.113,.108,.128,.12,.141,
-.12,-.093,-.095,-.065,-.07,-.039,-.045,-.012,-.02,.014,.005,.04,.03,.067,.055,.093,.08,.117,.1,.135,
-.108,-.078,-.082,-.051,-.058,-.026,-.032,.001,-.008,.027,.018,.054,.042,.079,.068,.106,.09,.127,
-.132,-.114,-.108,-.088,-.082,-.061,-.058,-.036,-.032,-.009,-.008,.017,.018,.044,.042,.069,.068,.096,.092,.122,.112,.14,
-.13,-.14,-.105,-.115,-.08,-.089,-.055,-.063,-.03,-.037,-.005,-.01,.02,.016,.045,.042,.07,.069,.095,.095,
-.118,-.129,-.092,-.102,-.068,-.076,-.042,-.049,-.018,-.024,.008,.003,.032,.029,.058,.056,.082,.081,
-.12,-.121,-.095,-.095,-.07,-.069,-.045,-.042,-.02,-.016,.005,.01,.03,.037,.055,.063,.08,.089,.105,.115,
.147,.089,.176,.089,.2,.111,.22,.116,.235,.129,.118,.05,.12,.13];

const PANEL_DATA = [ACCESS1_0, CCSM4, CESM1_FASTCHEM, CNRM_CM5, CSIRO_MK3_6_0, CANESM2,
  GFDL_CM3, GFDL_ESM2G, GFDL_ESM2M, GISS_E2_R, HADGEM2_CC, HADGEM2_ES,
  IPSL_CM5A_LR, IPSL_CM5B_LR, MIROC_ESM, MIROC5, MPI_ESM_LR, MPI_ESM_MR,
  MPI_ESM_P, MRI_CGCM3, NORESM1_ME, NORESM1_M, BCC_CSM1_1_M, BCC_CSM1_1];

// ---- Build chart ----
function pairs(a) { const out = []; for (let k = 0; k < a.length; k += 2) out.push([a[k], a[k + 1]]); return out; }
function lookup(vals, labels, v) { const k = vals.findIndex(t => Math.abs(t - v) < 1e-6); return k >= 0 ? labels[k] : ''; }

const FONT = '"Liberation Sans", Arial, Helvetica, sans-serif';
const PANEL_LEFT = 133, PANEL_TOP = 8, PANEL_W = 240, PANEL_H = 226, STEP_X = 247, STEP_Y = 233;
const AXIS_PANEL = 18;

const grids = [], xAxes = [], yAxes = [], series = [], graphics = [];
PANEL_DATA.forEach((d, i) => {
  const r = Math.floor(i / 6), c = i % 6;
  const left = PANEL_LEFT + STEP_X * c, top = PANEL_TOP + STEP_Y * r;
  const ax = i === AXIS_PANEL;
  grids.push({ left, top, width: PANEL_W, height: PANEL_H, show: true, backgroundColor: '#e5e5e5', borderWidth: 0, z: 0 });
  const common = {
    gridIndex: i, type: 'value', min: -0.3, max: 0.3, interval: 0.1, z: 1,
    splitLine: { show: true, lineStyle: { color: '#ffffff', width: 2 } },
    axisLine: { show: ax, onZero: false, lineStyle: { color: '#222', width: 1.8 } },
    axisTick: { show: ax, length: 12, lineStyle: { color: '#222', width: 1.8 } }
  };
  xAxes.push(Object.assign({}, common, {
    axisLabel: { show: ax, margin: 31, fontSize: 19, fontFamily: FONT, color: '#222', showMinLabel: true, showMaxLabel: true,
      formatter: v => lookup(X_TICK_VALUES, X_TICK_LABELS, v) }
  }));
  yAxes.push(Object.assign({}, common, {
    axisLabel: { show: ax, margin: 25, fontSize: 19, fontFamily: FONT, color: '#222', showMinLabel: true, showMaxLabel: true,
      formatter: v => lookup(Y_TICK_VALUES, Y_TICK_LABELS, v) }
  }));
  series.push({ type: 'scatter', xAxisIndex: i, yAxisIndex: i, data: pairs(d), symbolSize: 8, clip: false, silent: true, z: 2,
    itemStyle: { color: '#68a4cd', opacity: 1 } });
  graphics.push({ type: 'text', x: left + 19, y: top + 17, silent: true, z: 10,
    style: { text: MODELS[i], fontSize: 20, fontFamily: FONT, fill: '#5c5c5c', align: 'left', verticalAlign: 'middle' } });
  graphics.push({ type: 'text', x: left + 220, y: top + 190, silent: true, z: 10,
    style: { text: R_VALUES[i], fontSize: 20, fontFamily: FONT, fill: '#5c5c5c', align: 'right', verticalAlign: 'middle' } });
});

const titleRich = {
  a: { fontSize: 36, fontFamily: FONT, fill: '#111', lineHeight: 43 },
  s: { fontSize: 22, fontFamily: FONT, fill: '#111', lineHeight: 22, verticalAlign: 'top' }
};
graphics.push({ type: 'text', x: 871, y: 1015, silent: true, z: 10,
  style: { text: '{a|10−year trend in global ocean heat content (Wm}{s|−2}{a|)}', rich: titleRich, align: 'center', verticalAlign: 'middle' } });
graphics.push({ type: 'text', x: 39, y: 454, rotation: Math.PI / 2, silent: true, z: 10,
  style: { text: '{a|10−year trend in Earth system energy content (Wm}{s|−2}{a|)}', rich: titleRich, align: 'center', verticalAlign: 'middle' } });

const chart = echarts.init(document.getElementById('chart'), null, { renderer: 'canvas' });
chart.setOption({
  animation: false,
  backgroundColor: '#ffffff',
  grid: grids, xAxis: xAxes, yAxis: yAxes, series: series, graphic: graphics
});
</script>
</body>
</html>
